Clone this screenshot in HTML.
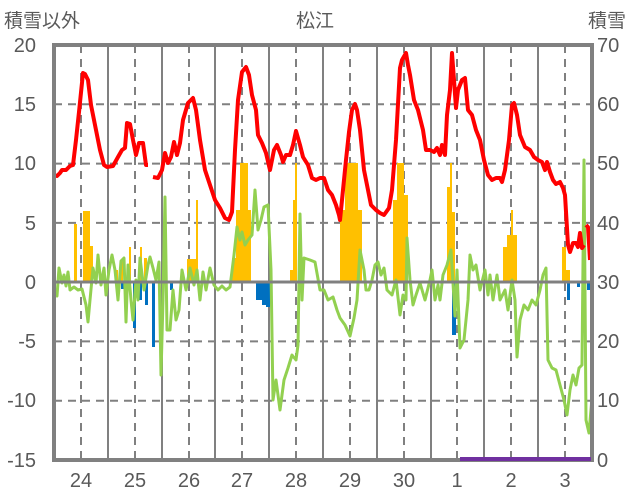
<!DOCTYPE html>
<html><head><meta charset="utf-8"><style>
body{margin:0;background:#fff}
svg{display:block}
text{font-family:"Liberation Sans","Noto Sans CJK JP",sans-serif;fill:#595959}
</style></head><body>
<svg width="636" height="501" viewBox="0 0 636 501">
<rect width="636" height="501" fill="#fff"/>
<g font-size="19">
<text x="4" y="27">積雪以外</text>
<text x="296" y="27">松江</text>
<text x="588" y="27">積雪</text>
</g>
<g stroke="#808080" stroke-width="2" stroke-dasharray="8,6">
<line x1="54" y1="104.3" x2="592" y2="104.3"/>
<line x1="54" y1="163.6" x2="592" y2="163.6"/>
<line x1="54" y1="222.9" x2="592" y2="222.9"/>
<line x1="54" y1="341.4" x2="592" y2="341.4"/>
<line x1="54" y1="400.7" x2="592" y2="400.7"/>
</g>
<g stroke="#808080" stroke-width="2" stroke-dasharray="8,6">
<line x1="81" y1="45" x2="81" y2="460"/><line x1="135" y1="45" x2="135" y2="460"/><line x1="189" y1="45" x2="189" y2="460"/><line x1="242" y1="45" x2="242" y2="460"/><line x1="296" y1="45" x2="296" y2="460"/><line x1="350" y1="45" x2="350" y2="460"/><line x1="404" y1="45" x2="404" y2="460"/><line x1="457" y1="45" x2="457" y2="460"/><line x1="511" y1="45" x2="511" y2="460"/><line x1="565" y1="45" x2="565" y2="460"/>
</g>
<g stroke="#808080" stroke-width="2">
<line x1="108" y1="45" x2="108" y2="460"/><line x1="162" y1="45" x2="162" y2="460"/><line x1="215" y1="45" x2="215" y2="460"/><line x1="269" y1="45" x2="269" y2="460"/><line x1="323" y1="45" x2="323" y2="460"/><line x1="377" y1="45" x2="377" y2="460"/><line x1="431" y1="45" x2="431" y2="460"/><line x1="484" y1="45" x2="484" y2="460"/><line x1="538" y1="45" x2="538" y2="460"/>
</g>
<g fill="#FFC000">
<rect x="74" y="224" width="3" height="58"/><rect x="83" y="211" width="7" height="71"/><rect x="90" y="246" width="3" height="36"/>
<rect x="116" y="270" width="2" height="12"/><rect x="120" y="260" width="3" height="22"/><rect x="129" y="247" width="2" height="35"/><rect x="140" y="247" width="2" height="35"/><rect x="144" y="258" width="3" height="24"/>
<rect x="187" y="259" width="10" height="23"/><rect x="196" y="200" width="2" height="82"/>
<rect x="232" y="258" width="4" height="24"/><rect x="236" y="210" width="4" height="72"/><rect x="240" y="163" width="8" height="119"/><rect x="248" y="210" width="3" height="72"/>
<rect x="290" y="270" width="3" height="12"/><rect x="293" y="200" width="2" height="82"/><rect x="295" y="163" width="2" height="119"/>
<rect x="340" y="210" width="5" height="72"/><rect x="345" y="163" width="13" height="119"/><rect x="358" y="210" width="4" height="72"/>
<rect x="393" y="200" width="4" height="82"/><rect x="397" y="163" width="7" height="119"/><rect x="404" y="195" width="4" height="87"/>
<rect x="447" y="187" width="3" height="95"/><rect x="450" y="163" width="2" height="119"/><rect x="452" y="212" width="3" height="70"/>
<rect x="503" y="247" width="4" height="35"/><rect x="507" y="235" width="4" height="47"/><rect x="511" y="210" width="2" height="72"/><rect x="513" y="235" width="4" height="47"/>
<rect x="562" y="247" width="4" height="35"/><rect x="566" y="270" width="4" height="12"/>
</g>
<g fill="#0070C0">
<rect x="121" y="282" width="3" height="7"/><rect x="133" y="282" width="3" height="46"/><rect x="139" y="282" width="3" height="18"/><rect x="145" y="282" width="3" height="23"/><rect x="152" y="282" width="3" height="65"/><rect x="170" y="282" width="3" height="8"/>
<rect x="256" y="282" width="14" height="18"/><rect x="262" y="282" width="5" height="23"/><rect x="266" y="282" width="4" height="25"/>
<rect x="452" y="282" width="4" height="53"/><rect x="567" y="282" width="3" height="18"/><rect x="577" y="282" width="3" height="5"/><rect x="587" y="282" width="3" height="8"/>
</g>
<polyline fill="none" stroke="#92D050" stroke-width="3" stroke-linejoin="round" points="54,292 57,296 59,268 62,283 64,275 66,286 68,272 70,290 74,287 78,290 82,289 86,305 88,322 90,300 93,268 96,283 98,255 101,285 104,268 106,295 109,270 112,255 115,270 118,300 121,261 124,258 126,322 128,265 131,300 133,320 136,280 138,300 140,258 144,290 148,265 150,257 153,268 156,280 159,262 161,375 163,300 165,197 167,330 170,330 173,290 176,320 179,310 182,270 186,290 190,268 194,285 197,270 200,300 203,272 206,290 210,268 214,285 218,290 222,286 226,290 230,287 234,255 237,227 240,240 242,232 245,245 248,240 252,235 255,190 258,230 261,220 264,207 268,205 271,270 273,400 276,380 280,410 284,380 288,368 292,355 296,360 298,345 300,214 302,300 304,258 310,260 315,262 320,290 324,290 328,300 333,297 337,310 340,318 345,325 350,336 354,318 357,300 360,250 364,270 366,290 369,290 372,280 375,265 378,262 381,275 384,268 387,290 392,295 396,280 400,315 403,295 406,300 407,238 410,280 413,305 416,295 420,283 425,300 430,280 432,270 435,300 438,285 440,300 443,275 447,265 451,250 455,316 457,270 460,348 464,340 468,300 470,255 473,270 476,265 480,290 485,270 488,295 490,275 493,300 497,275 500,300 505,290 508,310 512,280 515,300 517,357 520,320 524,305 528,310 532,300 536,305 540,290 543,275 546,268 548,360 552,368 556,370 560,385 564,400 567,415 570,390 573,375 576,385 579,368 582,365 584,160 586,420 589,433 592,398"/>
<g fill="none" stroke="#FF0000" stroke-width="4" stroke-linejoin="round">
<polyline points="54,175 57,176 60,173 62,170 66,170 70,166 73,165 76,140 79,112 83,73 85,74 88,80 91,105 95,125 100,150 104,165 107,167 113,166 118,157 122,150 125,148 127,123 130,124 133,140 136,155 139,143 143,143 146,165 148,165"/>
<polyline points="153,177 158,178 162,170 165,153 168,163 171,157 174,142 177,155 180,143 183,120 188,103 193,98 196,110 200,140 205,170 210,185 215,200 220,208 225,218 229,220 232,212 235,150 238,100 242,72 246,67 249,75 252,95 256,110 258,135 262,143 266,153 270,170 274,150 277,145 281,155 283,162 286,155 290,155 293,145 296,131 300,145 303,157 308,165 312,178 316,180 320,178 324,178 328,190 332,195 336,205 339,215 340,220 343,190 346,160 349,132 352,110 355,104 357,110 360,130 364,170 368,190 371,205 376,210 380,213 384,215 389,208 392,190 396,140 400,68 402,60 406,53 408,65 410,75 414,100 418,110 423,130 426,150 430,150 434,152 437,148 440,155 442,145 445,155 447,115 450,90 452,53 454,80 456,108 458,90 462,80 465,78 468,110 472,115 476,130 480,140 484,160 488,175 492,180 496,178 500,178 502,182 505,170 509,140 512,105 514,103 517,115 520,135 525,147 530,150 534,157 538,160 542,162 545,170 547,162 550,172 553,180 556,184 560,182 563,188 565,195 568,245 570,252 573,243 576,243 578,247 580,233 582,248 584,245"/>
<polyline points="586,225 588,227 590,260"/>
</g>
<line x1="54" y1="282" x2="592" y2="282" stroke="#808080" stroke-width="3"/>
<rect x="54" y="45" width="538" height="415" fill="none" stroke="#808080" stroke-width="4"/>
<line x1="460" y1="459" x2="591" y2="459" stroke="#7030A0" stroke-width="4"/>
<g font-size="20" text-anchor="end">
<text x="36" y="52">20</text><text x="36" y="111">15</text><text x="36" y="170">10</text><text x="36" y="230">5</text><text x="36" y="289">0</text><text x="36" y="348">-5</text><text x="36" y="407">-10</text><text x="36" y="467">-15</text>
</g>
<g font-size="20" text-anchor="start">
<text x="597" y="52">70</text><text x="597" y="111">60</text><text x="597" y="170">50</text><text x="597" y="230">40</text><text x="597" y="289">30</text><text x="597" y="348">20</text><text x="597" y="407">10</text><text x="597" y="467">0</text>
</g>
<g font-size="20" text-anchor="middle">
<text x="81" y="487">24</text><text x="135" y="487">25</text><text x="189" y="487">26</text><text x="242" y="487">27</text><text x="296" y="487">28</text><text x="350" y="487">29</text><text x="404" y="487">30</text><text x="457" y="487">1</text><text x="511" y="487">2</text><text x="565" y="487">3</text>
</g>
</svg>
</body></html>
